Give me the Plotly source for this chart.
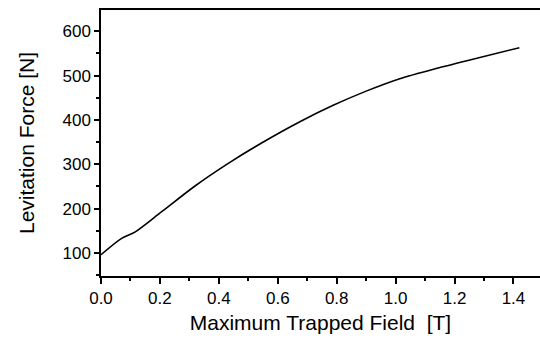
import plotly.graph_objects as go

field_T = [0.0, 0.07, 0.115, 0.206, 0.319, 0.432, 0.545, 0.675, 0.788,
           0.9, 1.014, 1.137, 1.262, 1.42]
force_N = [96, 133, 147, 193, 251, 302, 348, 396, 433,
           465, 493, 516, 537, 563]

x_ticks = [0.0, 0.2, 0.4, 0.6, 0.8, 1.0, 1.2, 1.4]
x_labels = ["0.0", "0.2", "0.4", "0.6", "0.8", "1.0", "1.2", "1.4"]
y_ticks = [100, 200, 300, 400, 500, 600]

fig = go.Figure()
fig.add_trace(go.Scatter(x=field_T, y=force_N, mode="lines",
                         line=dict(color="black", width=1.6, shape="spline", smoothing=0.8),
                         showlegend=False))

font_family = "Liberation Sans, Arial, sans-serif"
fig.update_layout(
    width=540, height=340,
    margin=dict(l=101, r=0, t=10, b=64),
    paper_bgcolor="white", plot_bgcolor="white",
    font=dict(family=font_family, color="black"),
)
fig.update_xaxes(
    range=[0, 1.49], tickvals=x_ticks, ticktext=x_labels,
    ticks="outside", ticklen=6, tickwidth=1.5, tickcolor="black",
    minor=dict(dtick=0.1, ticks="outside", ticklen=3, tickcolor="black"),
    showline=True, linecolor="black", linewidth=1.5, mirror=True,
    showgrid=False, zeroline=False, automargin=False,
    tickfont=dict(size=17, family=font_family),
    title=dict(text="Maximum Trapped Field  [T]", font=dict(size=21), standoff=8),
)
fig.update_yaxes(
    range=[48, 648], tickvals=y_ticks,
    ticks="outside", ticklen=5, tickwidth=1.5, tickcolor="black",
    minor=dict(dtick=50, ticks="outside", ticklen=3, tickcolor="black"),
    showline=True, linecolor="black", linewidth=1.5,
    showgrid=False, zeroline=False, automargin=False,
    tickfont=dict(size=17, family=font_family),
    title=dict(text="Levitation Force [N]", font=dict(size=21), standoff=22),
)

fig.write_html("out.html", config={"displayModeBar": False},
               post_script="document.body.style.margin='0';document.body.style.overflow='hidden';")
